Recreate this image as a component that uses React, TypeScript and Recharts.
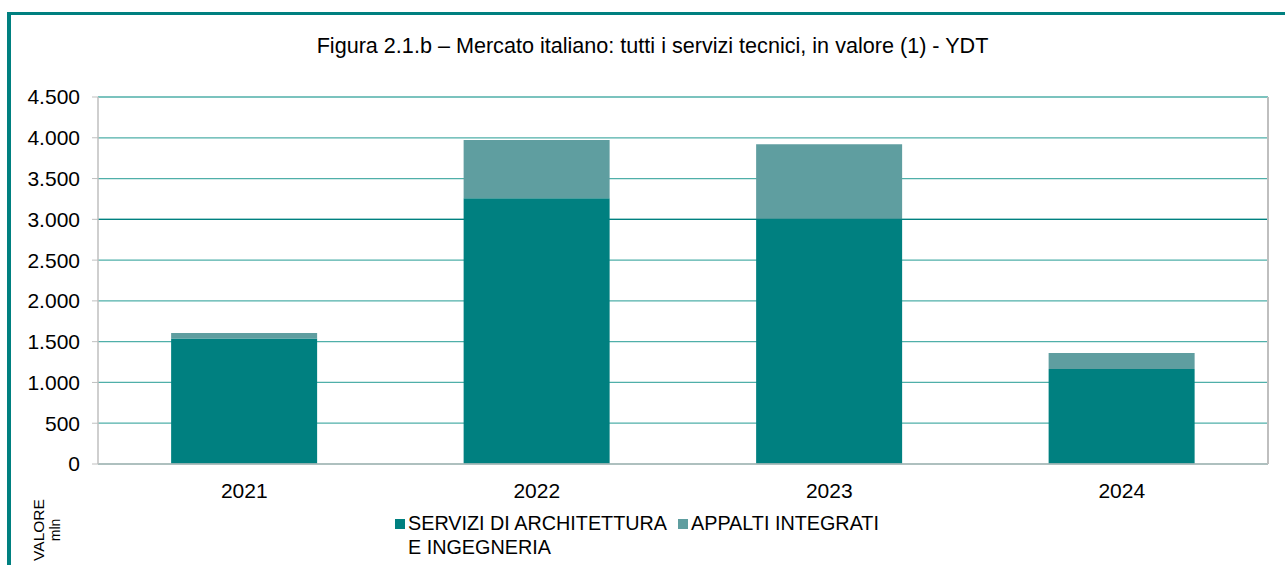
import { BarChart, Bar, XAxis, YAxis, CartesianGrid, ReferenceLine } from "recharts";

const years = ["2021", "2022", "2023", "2024"];
const serviziArchIng = [1540, 3260, 3000, 1165];
const appaltiIntegrati = [65, 712, 920, 195];
const yTicks = [0, 500, 1000, 1500, 2000, 2500, 3000, 3500, 4000, 4500];

const DARK = "#008080";
const LIGHT = "#5F9EA0";
const AXIS = "#BFBFBF";
const FONT = "'Liberation Sans', Arial, sans-serif";

const data = years.map((y, i) => ({ year: y, servizi: serviziArchIng[i], appalti: appaltiIntegrati[i], idx: i + 0.5 }));

// thousands with a dot, Italian style
const it = (v: number): string => v.toLocaleString("it-IT");

export default function App() {
  return (
    <div style={{ position: "absolute", left: 0, top: 0, width: 1285, height: 565, overflow: "hidden", background: "#fff", fontFamily: FONT }}>
      {/* teal frame, left + top */}
      <div style={{ position: "absolute", left: 7, top: 12, width: 1300, height: 600, borderLeft: `4px solid ${DARK}`, borderTop: `3px solid ${DARK}` }} />
      <div style={{ position: "absolute", left: 0, width: 1305, top: 33, textAlign: "center", fontSize: 21.6, color: "#000" }}>
        Figura 2.1.b – Mercato italiano: tutti i servizi tecnici, in valore (1) - YDT
      </div>
      <BarChart
        width={1285}
        height={565}
        data={data}
        margin={{ top: 97, right: 17, left: 0, bottom: 71 }}
        barCategoryGap="25%"
        style={{ position: "absolute", left: 0, top: 0 }}
      >
        <CartesianGrid vertical={false} stroke="#4FAFA9" strokeWidth={1.3} />
        <XAxis xAxisId="b" type="number" dataKey="idx" domain={[0, 4]} ticks={[0, 1, 2, 3, 4]} height={0} axisLine={false} tickLine={{ stroke: AXIS }} tickSize={7} tickFormatter={() => ""} />
        <XAxis
          xAxisId="cat"
          dataKey="year"
          height={30}
          axisLine={{ stroke: AXIS, strokeWidth: 1.5 }}
          tickLine={false}
          tickMargin={13}
          tick={{ fontSize: 21, fill: "#000", fontFamily: FONT }}
        />
        <YAxis
          width={98}
          domain={[0, 4500]}
          ticks={yTicks}
          tickFormatter={it}
          axisLine={{ stroke: AXIS, strokeWidth: 1.5 }}
          tickLine={{ stroke: AXIS }}
          tickSize={6}
          tickMargin={12}
          tick={{ fontSize: 21, fill: "#000", fontFamily: FONT }}
        />
        <ReferenceLine y={3000} xAxisId="cat" stroke={DARK} strokeWidth={1.3} />
        <ReferenceLine x={4} xAxisId="b" stroke={AXIS} strokeWidth={2} />
        <Bar xAxisId="cat" dataKey="servizi" stackId="a" fill={DARK} isAnimationActive={false} />
        <Bar xAxisId="cat" dataKey="appalti" stackId="a" fill={LIGHT} isAnimationActive={false} />
      </BarChart>
      {/* legend */}
      <div style={{ position: "absolute", left: 395, top: 511, fontSize: 19.8, lineHeight: "24px", color: "#000", display: "flex" }}>
        <div style={{ display: "flex", alignItems: "flex-start" }}>
          <span style={{ width: 10, height: 10, background: DARK, marginTop: 8, marginRight: 3, flex: "none" }} />
          <span style={{ width: 266, marginRight: 4 }}>SERVIZI DI ARCHITETTURA E INGEGNERIA</span>
        </div>
        <div style={{ display: "flex", alignItems: "flex-start" }}>
          <span style={{ width: 10, height: 10, background: LIGHT, marginTop: 8, marginRight: 3, flex: "none" }} />
          <span>APPALTI INTEGRATI</span>
        </div>
      </div>
      {/* rotated axis title */}
      <div style={{ position: "absolute", left: 47, top: 530, transform: "translate(-50%, -50%) rotate(-90deg)", fontSize: 15.5, lineHeight: "16px", textAlign: "center", whiteSpace: "nowrap", color: "#000" }}>
        VALORE
        <br />
        <span style={{ fontSize: 14 }}>mln</span>
      </div>
    </div>
  );
}
